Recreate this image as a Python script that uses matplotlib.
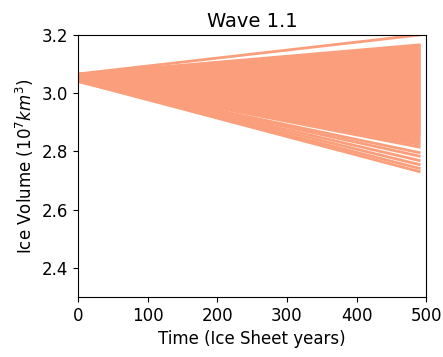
import numpy as np
import matplotlib.pyplot as plt

# Ensemble of ice volume runs (10^7 km^3): value at start and end of each run
time = [0, 490]
end_vol = [3.200, 3.166, 3.162, 3.158, 3.152, 3.148, 3.143, 3.139, 3.134, 3.130,
           3.125, 3.121, 3.116, 3.112, 3.107, 3.103, 3.098, 3.094, 3.089, 3.085,
           3.080, 3.076, 3.071, 3.067, 3.062, 3.058, 3.053, 3.049, 3.044, 3.040,
           3.035, 3.031, 3.026, 3.022, 3.017, 3.013, 3.008, 3.004, 2.999, 2.995,
           2.990, 2.986, 2.981, 2.977, 2.972, 2.968, 2.963, 2.959, 2.954, 2.950,
           2.945, 2.941, 2.936, 2.932, 2.927, 2.923, 2.918, 2.914, 2.909, 2.905,
           2.900, 2.896, 2.891, 2.887, 2.882, 2.878, 2.873, 2.869, 2.864, 2.860,
           2.855, 2.848, 2.840, 2.832, 2.824, 2.815, 2.796, 2.784, 2.769, 2.755,
           2.742, 2.731]
start_vol = [3.066, 3.065, 3.065, 3.064, 3.064, 3.064, 3.063, 3.063, 3.063, 3.062,
             3.062, 3.062, 3.061, 3.061, 3.061, 3.060, 3.060, 3.060, 3.059, 3.059,
             3.059, 3.058, 3.058, 3.058, 3.057, 3.057, 3.057, 3.056, 3.056, 3.056,
             3.055, 3.055, 3.055, 3.054, 3.054, 3.054, 3.053, 3.053, 3.053, 3.052,
             3.052, 3.052, 3.051, 3.051, 3.051, 3.050, 3.050, 3.050, 3.049, 3.049,
             3.049, 3.048, 3.048, 3.048, 3.048, 3.047, 3.047, 3.047, 3.047, 3.046,
             3.046, 3.046, 3.046, 3.045, 3.045, 3.045, 3.045, 3.044, 3.044, 3.044,
             3.044, 3.044, 3.043, 3.043, 3.043, 3.043, 3.042, 3.042, 3.042, 3.042,
             3.041, 3.041]

fig = plt.figure(figsize=(4.43, 3.57), dpi=100)
ax = fig.add_axes([0.176, 0.168, 0.786, 0.734])

for s, e in zip(start_vol, end_vol):
    ax.plot(time, [s, e], color='#fb9e7b', lw=2.0)

ax.set_xlim(0, 500)
ax.set_ylim(2.3, 3.2)
ax.set_xticks([0, 100, 200, 300, 400, 500])
ax.set_yticks([2.4, 2.6, 2.8, 3.0, 3.2])
ax.tick_params(labelsize=12)
ax.set_xlabel('Time (Ice Sheet years)', fontsize=12)
ax.set_ylabel('Ice Volume ($10^7 km^3$)', fontsize=12)
ax.set_title('Wave 1.1', fontsize=14)

plt.savefig('out.png', dpi=100)
